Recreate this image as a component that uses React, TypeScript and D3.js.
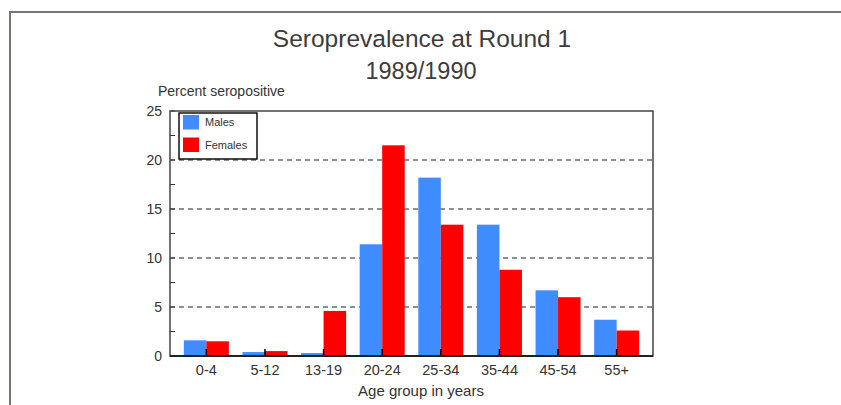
import React, { useEffect, useRef } from 'react';
import * as d3 from 'd3';

const ageGroups = ['0-4', '5-12', '13-19', '20-24', '25-34', '35-44', '45-54', '55+'];
const males = [1.6, 0.4, 0.3, 11.4, 18.2, 13.4, 6.7, 3.7];
const females = [1.5, 0.5, 4.6, 21.5, 13.4, 8.8, 6.0, 2.6];
const yTicks = [0, 5, 10, 15, 20, 25];
const yMinorTicks = [2.5, 7.5, 12.5, 17.5, 22.5];
const seriesNames = ['Males', 'Females'];
const seriesColors = ['#3f8cff', '#ff0000'];

const width = 841;
const height = 405;
const margin = { top: 111, right: 188, bottom: 49, left: 170 };

const App = () => {
  const ref = useRef(null);

  useEffect(() => {
    const svg = d3.select(ref.current);
    svg.selectAll('*').remove();

    const w = width - margin.left - margin.right;
    const h = height - margin.top - margin.bottom;
    const font = '"Liberation Sans", Arial, Helvetica, sans-serif';

    // outer frame
    svg
      .append('path')
      .attr('d', `M10,${height + 5}V12H${width + 5}`)
      .attr('fill', 'none')
      .attr('stroke', '#7a7370')
      .attr('stroke-width', 2);

    // titles
    const title = svg.append('g').attr('font-family', font).attr('fill', '#3c3c3c').attr('text-anchor', 'middle');
    title.append('text').attr('x', 422).attr('y', 47).attr('font-size', 24.5).text('Seroprevalence at Round 1');
    title.append('text').attr('x', 421).attr('y', 79).attr('font-size', 23.5).text('1989/1990');

    const g = svg.append('g').attr('transform', `translate(${margin.left},${margin.top})`);

    const x = d3.scalePoint().domain(ageGroups).range([0, w]).padding(0.62);
    const y = d3.scaleLinear().domain([0, 25]).range([h, 0]);
    const barW = 22.5;

    // dashed grid lines
    g.selectAll('.grid')
      .data(yTicks.filter((d) => d > 0 && d < 25))
      .join('line')
      .attr('class', 'grid')
      .attr('x1', 0)
      .attr('x2', w)
      .attr('y1', (d) => y(d))
      .attr('y2', (d) => y(d))
      .attr('stroke', '#222')
      .attr('stroke-width', 1.2)
      .attr('stroke-dasharray', '5,4');

    // bars
    const series = [males, females];
    series.forEach((vals, si) => {
      g.selectAll(`.bar${si}`)
        .data(vals)
        .join('rect')
        .attr('class', `bar${si}`)
        .attr('x', (d, i) => x(ageGroups[i]) - barW + si * barW)
        .attr('y', (d) => y(d))
        .attr('width', barW)
        .attr('height', (d) => h - y(d))
        .attr('fill', seriesColors[si]);
    });

    // x category ticks
    g.selectAll('.xtick')
      .data(ageGroups)
      .join('line')
      .attr('class', 'xtick')
      .attr('x1', (d) => x(d))
      .attr('x2', (d) => x(d))
      .attr('y1', h)
      .attr('y2', h - 7)
      .attr('stroke', '#000')
      .attr('stroke-width', 1.5);

    // y ticks (inward)
    g.selectAll('.ytick')
      .data(yTicks.concat(yMinorTicks))
      .join('line')
      .attr('class', 'ytick')
      .attr('x1', 0)
      .attr('x2', 5)
      .attr('y1', (d) => y(d))
      .attr('y2', (d) => y(d))
      .attr('stroke', '#333')
      .attr('stroke-width', 1);

    // plot frame
    g.append('rect')
      .attr('width', w)
      .attr('height', h)
      .attr('fill', 'none')
      .attr('stroke', '#444')
      .attr('stroke-width', 1.5);
    g.append('line')
      .attr('x1', 0)
      .attr('x2', w)
      .attr('y1', h)
      .attr('y2', h)
      .attr('stroke', '#222')
      .attr('stroke-width', 2);

    // y labels
    g.selectAll('.ylabel')
      .data(yTicks)
      .join('text')
      .attr('class', 'ylabel')
      .attr('x', -8)
      .attr('y', (d) => y(d))
      .attr('dy', '0.35em')
      .attr('text-anchor', 'end')
      .attr('font-family', font)
      .attr('font-size', 14)
      .attr('fill', '#333')
      .text((d) => d);

    // x labels
    g.selectAll('.xlabel')
      .data(ageGroups)
      .join('text')
      .attr('class', 'xlabel')
      .attr('x', (d) => x(d))
      .attr('y', h + 19)
      .attr('text-anchor', 'middle')
      .attr('font-family', font)
      .attr('font-size', 14.5)
      .attr('fill', '#333')
      .text((d) => d);

    // axis titles
    g.append('text')
      .attr('x', -12)
      .attr('y', -15)
      .attr('font-family', font)
      .attr('font-size', 14)
      .attr('fill', '#333')
      .text('Percent seropositive');
    g.append('text')
      .attr('x', 421 - margin.left)
      .attr('y', h + 40)
      .attr('text-anchor', 'middle')
      .attr('font-family', font)
      .attr('font-size', 15)
      .attr('fill', '#333')
      .text('Age group in years');

    // legend
    const legend = g.append('g').attr('transform', 'translate(9,2)');
    legend
      .append('rect')
      .attr('width', 78)
      .attr('height', 46)
      .attr('fill', '#fff')
      .attr('stroke', '#111')
      .attr('stroke-width', 1.5);
    seriesNames.forEach((name, i) => {
      legend
        .append('rect')
        .attr('x', 4)
        .attr('y', 2 + i * 22.5)
        .attr('width', 16)
        .attr('height', 14.5)
        .attr('fill', seriesColors[i]);
      legend
        .append('text')
        .attr('x', 26)
        .attr('y', 9.5 + i * 22.5)
        .attr('dy', '0.35em')
        .attr('font-family', font)
        .attr('font-size', 11)
        .attr('fill', '#333')
        .text(name);
    });
  }, []);

  return (
    <svg
      ref={ref}
      width={width}
      height={height}
      style={{ position: 'absolute', left: 0, top: 0, background: '#fff' }}
    />
  );
};

export default App;
